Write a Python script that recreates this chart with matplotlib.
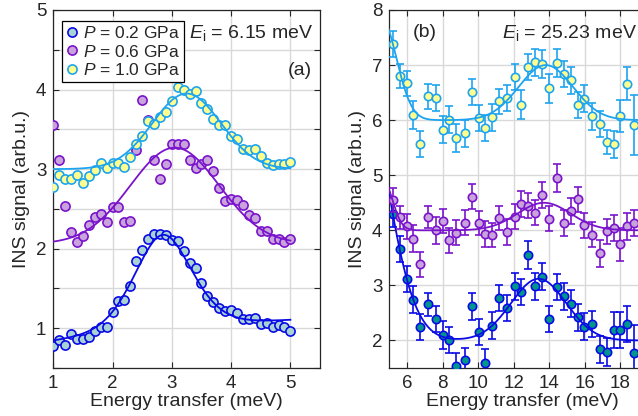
import matplotlib
matplotlib.use('Agg')
import matplotlib.pyplot as plt
import numpy as np

plt.rcParams['font.family'] = ['Liberation Sans', 'DejaVu Sans']
plt.rcParams['mathtext.fontset'] = 'custom'
plt.rcParams['mathtext.rm'] = 'Liberation Sans'
plt.rcParams['mathtext.it'] = 'Liberation Sans:italic'

# ---------------- data: panel (a), Ei = 6.15 meV ----------------
a_x = [1.0, 1.1, 1.2, 1.3, 1.4, 1.5, 1.6, 1.7, 1.8, 1.9, 2.0, 2.1, 2.2, 2.3,
       2.4, 2.5, 2.6, 2.7, 2.8, 2.9, 3.0, 3.1, 3.2, 3.3, 3.4, 3.5, 3.6, 3.7,
       3.8, 3.9, 4.0, 4.1, 4.2, 4.3, 4.4, 4.5, 4.6, 4.7, 4.8, 4.9, 5.0]
a_p02 = [0.78, 0.85, 0.79, 0.93, 0.87, 0.86, 0.89, 0.97, 1.02, 1.02, 1.21, 1.34,
         1.36, 1.53, 1.85, 1.98, 2.12, 2.18, 2.18, 2.17, 2.11, 2.10, 1.97, 1.82,
         1.76, 1.57, 1.40, 1.33, 1.26, 1.22, 1.23, 1.19, 1.12, 1.12, 1.13, 1.05,
         1.06, 1.01, 1.04, 1.02, 0.97]
a_p06 = [3.55, 3.11, 2.54, 2.21, 2.09, 2.16, 2.30, 2.40, 2.43, 2.34, 2.52, 2.53,
         2.33, 2.35, 3.24, 3.87, 3.62, 3.11, 2.87, 3.06, 3.32, 3.32, 3.32, 3.11,
         3.01, 3.06, 3.11, 2.98, 2.76, 2.60, 2.62, 2.61, 2.55, 2.42, 2.38, 2.22,
         2.22, 2.12, 2.12, 2.08, 2.12]
a_p10 = [2.78, 2.93, 2.87, 2.88, 2.92, 2.82, 2.91, 2.99, 3.08, 3.01, 3.08, 3.08,
         3.03, 3.15, 3.32, 3.42, 3.60, 3.57, 3.66, 3.72, 3.86, 4.03, 3.99, 3.95,
         3.98, 3.83, 3.75, 3.63, 3.56, 3.55, 3.42, 3.38, 3.25, 3.24, 3.25, 3.16,
         3.08, 3.05, 3.07, 3.07, 3.09]

# fit parameters (a): center, gamma(HWHM Lorentz), sigma, eta, amplitude, bg0, bg slope
fit_a_p02 = [2.85, 0.60, 0.50, 0.40, 1.25, 0.73, 0.068]
fit_a_p06 = [3.05, 0.75, 1.21, 2.06]   # center, sigma, amplitude, bg
fit_a_p10 = [3.25, 0.58, 0.95, 3.00]

# ---------------- data: panel (b), Ei = 25.23 meV ----------------
b_x = [5.23, 5.61, 5.98, 6.32, 6.73, 7.16, 7.63, 8.01, 8.38, 8.76, 9.23, 9.64,
       10.02, 10.41, 10.79, 11.15, 11.60, 12.05, 12.40, 12.78, 13.17, 13.57,
       13.99, 14.43, 14.82, 15.24, 15.60, 15.95, 16.40, 16.87, 17.27, 17.62,
       18.00, 18.37, 18.75]
b_p10 = [7.38, 6.80, 6.67, 6.09, 5.57, 6.43, 6.40, 5.83, 6.01, 5.68, 5.76, 6.51,
         6.04, 5.86, 6.05, 6.34, 6.40, 6.78, 6.28, 6.96, 7.05, 7.02, 6.58, 7.04,
         6.84, 6.72, 6.28, 6.39, 6.07, 5.93, 5.61, 5.56, 6.08, 6.66, 5.91]
b_p10_err = [0.23, 0.22, 0.23, 0.25, 0.23, 0.23, 0.24, 0.24, 0.25, 0.25, 0.24,
             0.24, 0.24, 0.24, 0.24, 0.23, 0.24, 0.24, 0.26, 0.24, 0.25, 0.25,
             0.26, 0.26, 0.24, 0.25, 0.24, 0.25, 0.24, 0.23, 0.22, 0.24, 0.29,
             0.30, 0.54]
b_p06 = [4.55, 4.24, 4.07, 3.85, 3.38, 4.24, 4.00, 4.17, 3.82, 3.96, 4.14, 4.61,
         4.13, 3.93, 3.91, 4.22, 3.97, 4.25, 4.48, 4.45, 4.32, 4.64, 4.21, 4.95,
         4.13, 4.35, 4.56, 4.09, 3.92, 3.58, 3.98, 4.04, 3.75, 4.07, 4.13]
b_p06_err = [0.21, 0.21, 0.22, 0.24, 0.23, 0.20, 0.24, 0.22, 0.23, 0.22, 0.22,
             0.23, 0.22, 0.23, 0.22, 0.22, 0.23, 0.23, 0.24, 0.23, 0.23, 0.23,
             0.23, 0.25, 0.23, 0.23, 0.23, 0.23, 0.23, 0.24, 0.23, 0.24, 0.30,
             0.24, 0.23]
b_p02 = [4.30, 3.66, 3.12, 2.74, 2.24, 2.66, 2.39, 2.10, 2.01, 1.54, 1.65, 2.62,
         2.15, 1.59, 2.27, 2.77, 2.59, 2.98, 2.88, 3.55, 2.98, 3.16, 2.39, 2.97,
         2.80, 2.67, 2.42, 2.25, 2.30, 1.84, 1.79, 2.19, 2.19, 2.30, 1.77]
b_p02_err = [0.24, 0.24, 0.24, 0.24, 0.24, 0.21, 0.24, 0.25, 0.23, 0.24, 0.21,
             0.24, 0.24, 0.25, 0.24, 0.24, 0.24, 0.24, 0.24, 0.25, 0.24, 0.24,
             0.24, 0.24, 0.24, 0.24, 0.24, 0.25, 0.24, 0.25, 0.25, 0.33, 0.33,
             0.32, 0.51]

# fit parameters (b): bg, tail amp, tail center, tail sigma, peak amp, peak center, peak sigma
fit_b_p02 = [2.0, 5.40, 3.00, 1.68, 1.12, 13.4, 1.55]
fit_b_p06 = [4.0, 0.95, 4.60, 0.55, 0.50, 13.7, 1.50]
fit_b_p10 = [6.0, 1.86, 4.54, 0.86, 1.00, 13.8, 1.52]

labels = [r'$P$ = 0.2 GPa', r'$P$ = 0.6 GPa', r'$P$ = 1.0 GPa']

# ---------------- styles ----------------
TXT = '#262626'
C_BLUE = '#0a0ae6'
C_PURP = '#7a14cc'
C_SKY = '#1ea4ef'
F_BLUE_A = '#a9d3d3'
F_BLUE_B = '#00968c'
F_PURP = '#c9a3db'
F_YEL = '#ffff8f'


def gauss(x, a, c, s):
    return a * np.exp(-(x - c) ** 2 / (2 * s ** 2))


def fit_pv(x, p):
    c, g, s, eta, a, b0, b1 = p
    lor = 1.0 / (1.0 + ((x - c) / g) ** 2)
    gau = np.exp(-(x - c) ** 2 / (2 * s ** 2))
    return b0 + b1 * x + a * (eta * lor + (1 - eta) * gau)


def fit_g(x, p):
    c, s, a, b = p
    return b + gauss(x, a, c, s)


def fit_b(x, p):
    bg, ta, tc, ts, pa, pc, ps = p
    return bg + gauss(x, ta, tc, ts) + gauss(x, pa, pc, ps)


fig = plt.figure(figsize=(6.38, 4.16), dpi=100)
axa = fig.add_axes([53.3 / 638, 48 / 416, 266.7 / 638, 358 / 416])
axb = fig.add_axes([389.3 / 638, 48 / 416, 266.7 / 638, 358 / 416])

for ax in (axa, axb):
    for sp in ax.spines.values():
        sp.set_color(TXT)
        sp.set_linewidth(0.9)
    ax.tick_params(direction='in', top=True, right=True, length=4, width=0.8,
                   colors=TXT, labelsize=13.5, pad=5)
    ax.grid(True, color='#d9d9d9', lw=1.0)
    ax.set_axisbelow(True)
    ax.set_xlabel('Energy transfer (meV)', fontsize=14, color=TXT, labelpad=1)
    ax.set_ylabel('INS signal (arb.u.)', fontsize=14, color=TXT, labelpad=4)

# ---- panel (a)
ms_a = 6.6
xf = np.linspace(1, 5, 400)
h1, = axa.plot(a_x, a_p02, 'o', ms=ms_a, mfc=F_BLUE_A, mec=C_BLUE, mew=1.2, zorder=3)
axa.plot(xf, fit_pv(xf, fit_a_p02), color=C_BLUE, lw=1.3, zorder=4)
h2, = axa.plot(a_x, a_p06, 'o', ms=ms_a, mfc=F_PURP, mec=C_PURP, mew=1.2, zorder=5)
axa.plot(xf, fit_g(xf, fit_a_p06), color=C_PURP, lw=1.3, zorder=6)
h3, = axa.plot(a_x, a_p10, 'o', ms=ms_a, mfc=F_YEL, mec=C_SKY, mew=1.2, zorder=7)
axa.plot(xf, fit_g(xf, fit_a_p10), color=C_SKY, lw=1.3, zorder=8)

axa.set_xlim(1, 5.5)
axa.set_ylim(0.5, 5)
axa.set_xticks([1, 2, 3, 4, 5])
yt = [0.5, 1.0, 1.5, 2.0, 2.5, 3.0, 3.5, 4.0, 4.5, 5.0]
axa.set_yticks(yt)
axa.set_yticklabels(['' if v % 1 else str(int(v)) for v in yt])

leg = axa.legend([h1, h2, h3], labels, loc='upper left',
                 bbox_to_anchor=(0.033, 0.969), borderaxespad=0,
                 fontsize=12.5, handlelength=0.6, handletextpad=0.35,
                 borderpad=0.25, labelspacing=0.12, fancybox=False,
                 framealpha=1, edgecolor='black')
leg.get_frame().set_linewidth(0.9)
for t in leg.get_texts():
    t.set_color(TXT)
leg.set_zorder(20)

axa.text(0.975, 0.936, r'$E_{\mathrm{i}}$ = 6.15 meV', transform=axa.transAxes,
         ha='right', va='center', fontsize=14, color=TXT, zorder=21)
axa.text(0.97, 0.832, '(a)', transform=axa.transAxes,
         ha='right', va='center', fontsize=14, color=TXT, zorder=21)

# ---- panel (b)
ms_b = 6.0
xg = np.linspace(4.8, 20, 600)
cap = 2.6
axb.errorbar(b_x, b_p02, yerr=b_p02_err, fmt='o', ms=ms_b, mfc=F_BLUE_B, mec=C_BLUE,
             mew=1.2, ecolor=C_BLUE, elinewidth=1.2, capsize=cap, capthick=1.2, zorder=3)
axb.plot(xg, fit_b(xg, fit_b_p02), color=C_BLUE, lw=1.3, zorder=4)
axb.errorbar(b_x, b_p06, yerr=b_p06_err, fmt='o', ms=ms_b, mfc=F_PURP, mec=C_PURP,
             mew=1.2, ecolor=C_PURP, elinewidth=1.2, capsize=cap, capthick=1.2, zorder=5)
axb.plot(xg, fit_b(xg, fit_b_p06), color=C_PURP, lw=1.3, zorder=6)
axb.errorbar(b_x, b_p10, yerr=b_p10_err, fmt='o', ms=ms_b, mfc=F_YEL, mec=C_SKY,
             mew=1.2, ecolor=C_SKY, elinewidth=1.2, capsize=cap, capthick=1.2, zorder=7)
axb.plot(xg, fit_b(xg, fit_b_p10), color=C_SKY, lw=1.3, zorder=8)

axb.set_xlim(5, 20)
axb.set_ylim(1.5, 8)
axb.set_xticks([6, 8, 10, 12, 14, 16, 18])
axb.set_yticks([2, 3, 4, 5, 6, 7, 8])

axb.text(0.089, 0.936, '(b)', transform=axb.transAxes,
         ha='left', va='center', fontsize=14, color=TXT, zorder=21)
axb.text(0.929, 0.936, r'$E_{\mathrm{i}}$ = 25.23 meV', transform=axb.transAxes,
         ha='right', va='center', fontsize=14, color=TXT, zorder=21)

fig.savefig('out.png', dpi=100)
